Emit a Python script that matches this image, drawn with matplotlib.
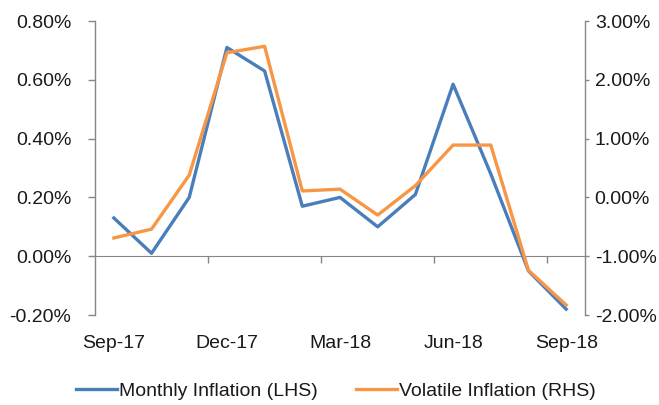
import matplotlib
matplotlib.use("Agg")
import matplotlib.pyplot as plt
from matplotlib.ticker import FuncFormatter, FixedLocator

plt.rcParams['font.family'] = ['Liberation Sans', 'DejaVu Sans']

# Data
months = ["Sep-17", "Oct-17", "Nov-17", "Dec-17", "Jan-18", "Feb-18", "Mar-18",
          "Apr-18", "May-18", "Jun-18", "Jul-18", "Aug-18", "Sep-18"]
monthly_lhs = [0.13, 0.01, 0.20, 0.71, 0.63, 0.17, 0.20, 0.10, 0.21, 0.585, 0.28, -0.05, -0.18]
volatile_rhs = [-0.69, -0.54, 0.38, 2.46, 2.57, 0.11, 0.14, -0.30, 0.20, 0.89, 0.89, -1.24, -1.83]
label_months = [0, 3, 6, 9, 12]

blue = '#4A7EBB'
orange = '#F79646'
axis_grey = '#868686'
text_col = '#1a1a1a'

fig = plt.figure(figsize=(6.59, 4.05), dpi=100)
ax = fig.add_axes([95 / 659, 1 - 315 / 405, 490 / 659, 294 / 405])
ax2 = ax.twinx()

x = list(range(len(months)))
l1, = ax.plot(x, monthly_lhs, color=blue, lw=2.4, label='Monthly Inflation (LHS)', zorder=3)
l2, = ax2.plot(x, volatile_rhs, color=orange, lw=2.4, label='Volatile Inflation (RHS)', zorder=3)

ax.set_xlim(-0.5, 12.5)
ax.set_ylim(-0.2, 0.8)
ax.set_yticks([-0.2, 0.0, 0.2, 0.4, 0.6, 0.8])
ax2.set_ylim(-2.0, 3.0)
ax2.set_yticks([-2, -1, 0, 1, 2, 3])
ax.yaxis.set_major_formatter(FuncFormatter(lambda v, p: f"{v:.2f}%"))
ax2.yaxis.set_major_formatter(FuncFormatter(lambda v, p: f"{v:.2f}%"))

for a in (ax, ax2):
    a.spines['top'].set_visible(False)
    a.spines['bottom'].set_visible(False)
    a.spines['left'].set_color(axis_grey)
    a.spines['right'].set_color(axis_grey)
    a.spines['left'].set_linewidth(1.0)
    a.spines['right'].set_linewidth(1.0)
    a.patch.set_visible(False)
ax2.spines['left'].set_visible(False)
ax.spines['right'].set_visible(False)

# horizontal category axis sits on the zero line of the LHS axis
ax.spines['bottom'].set_visible(True)
ax.spines['bottom'].set_position(('data', 0))
ax.spines['bottom'].set_color(axis_grey)
ax.xaxis.set_major_locator(FixedLocator([2.5, 5.5, 8.5, 11.5]))
ax.xaxis.set_minor_locator(FixedLocator(label_months))
ax.set_xticklabels([])
ax.set_xticklabels([months[i] for i in label_months], minor=True)
ax.tick_params(axis='x', which='major', direction='out', length=5, width=1, color=axis_grey)
ax.tick_params(axis='x', which='minor', length=0, pad=57, labelsize=14, labelcolor=text_col)

ax.tick_params(axis='y', direction='out', length=5, width=1, color=axis_grey,
               pad=12, labelsize=14, labelcolor=text_col)
ax2.tick_params(axis='y', direction='out', length=3, width=1, color=axis_grey,
                pad=4, labelsize=14, labelcolor=text_col)

fig.legend(handles=[l1, l2], loc='center', bbox_to_anchor=(336 / 659, 1 - 391 / 405),
           ncol=2, frameon=False, fontsize=14, handlelength=2.1, handletextpad=0.1,
           columnspacing=2.0, labelcolor=text_col)

fig.savefig('out.png', dpi=100)
